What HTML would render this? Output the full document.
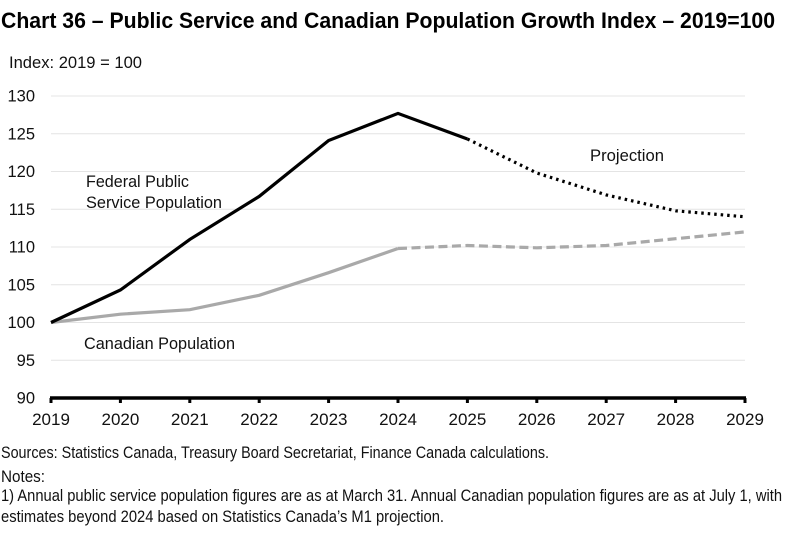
<!DOCTYPE html>
<html lang="en">
<head>
<meta charset="utf-8">
<title>Chart 36</title>
<style>
html,body{margin:0;padding:0;background:#fff;}
svg{display:block;font-family:"Liberation Sans",sans-serif;fill:#111;}
</style>
</head>
<body>
<svg id="chart" width="792" height="534" viewBox="0 0 792 534" xmlns="http://www.w3.org/2000/svg">
  <text x="1" y="28" font-size="22.5" font-weight="700" fill="#000" textLength="774" lengthAdjust="spacingAndGlyphs">Chart 36 – Public Service and Canadian Population Growth Index – 2019=100</text>
  <text x="9" y="68" font-size="16.5" textLength="133" lengthAdjust="spacingAndGlyphs">Index: 2019 = 100</text>
  <g id="grid"></g>
  <g id="yticks"></g>
  <g id="xaxis"></g>
  <g id="series"></g>
  <text x="86" y="187" font-size="16.5" textLength="103" lengthAdjust="spacingAndGlyphs">Federal Public</text>
  <text x="86" y="208" font-size="16.5" textLength="136" lengthAdjust="spacingAndGlyphs">Service Population</text>
  <text x="84" y="349" font-size="16.5" textLength="151" lengthAdjust="spacingAndGlyphs">Canadian Population</text>
  <text x="590" y="161" font-size="16.5" textLength="74" lengthAdjust="spacingAndGlyphs">Projection</text>
  <text x="1" y="458" font-size="16.5" textLength="548" lengthAdjust="spacingAndGlyphs">Sources: Statistics Canada, Treasury Board Secretariat, Finance Canada calculations.</text>
  <text x="1" y="482" font-size="16.5" textLength="44" lengthAdjust="spacingAndGlyphs">Notes:</text>
  <text x="1" y="501" font-size="16.5" textLength="781" lengthAdjust="spacingAndGlyphs">1) Annual public service population figures are as at March 31. Annual Canadian population figures are as at July 1, with</text>
  <text x="1" y="522" font-size="16.5" textLength="443" lengthAdjust="spacingAndGlyphs">estimates beyond 2024 based on Statistics Canada’s M1 projection.</text>
</svg>
<script>
const years = [2019, 2020, 2021, 2022, 2023, 2024, 2025, 2026, 2027, 2028, 2029];
const yTicks = [90, 95, 100, 105, 110, 115, 120, 125, 130];
const publicService = [100, 104.3, 111, 116.7, 124.1, 127.7, 124.3, 119.8, 116.9, 114.8, 114.0];
const canadianPopulation = [100, 101.1, 101.7, 103.6, 106.6, 109.8, 110.2, 109.9, 110.2, 111.1, 112.0];
const lastActualYear = 2024;
const publicServiceProjectionStart = 2025;

const NS = 'http://www.w3.org/2000/svg';
const plot = { left: 51, right: 745, top: 96, bottom: 398 };
const yMin = 90, yMax = 130;

function xScale(year) {
  return plot.left + (year - years[0]) / (years[years.length - 1] - years[0]) * (plot.right - plot.left);
}
function yScale(v) {
  return plot.bottom - (v - yMin) / (yMax - yMin) * (plot.bottom - plot.top);
}
function make(tag, attrs, parent) {
  const el = document.createElementNS(NS, tag);
  for (const k in attrs) el.setAttribute(k, attrs[k]);
  parent.appendChild(el);
  return el;
}

const grid = document.getElementById('grid');
const yLabels = document.getElementById('yticks');
yTicks.forEach(function (t) {
  if (t !== yMin) {
    const line = make('line', { x1: plot.left, x2: plot.right, y1: yScale(t), y2: yScale(t), stroke: '#e4e4e4', 'stroke-width': 1 }, grid);
    
    
  }
  const label = make('text', { x: 35, y: yScale(t) + 5.5, 'font-size': 16.5, 'text-anchor': 'end' }, yLabels);
  
  
  label.textContent = t;
});

const xAxis = document.getElementById('xaxis');
const axisLine = make('line', { x1: plot.left - 1, x2: plot.right + 1, y1: plot.bottom, y2: plot.bottom, stroke: '#000', 'stroke-width': 3.5 }, xAxis);


years.forEach(function (y) {
  const tick = make('line', { x1: xScale(y), x2: xScale(y), y1: plot.bottom, y2: plot.bottom + 5, stroke: '#000', 'stroke-width': 3 }, xAxis);
  
  
  const label = make('text', { x: xScale(y), y: 425, 'font-size': 17, 'text-anchor': 'middle' }, xAxis);
  
  
  label.textContent = y;
});

function pathFor(values, fromYear, toYear) {
  const pts = [];
  years.forEach(function (y, i) {
    if (y >= fromYear && y <= toYear) pts.push(xScale(y).toFixed(1) + ',' + yScale(values[i]).toFixed(1));
  });
  return 'M' + pts.join('L');
}

const series = document.getElementById('series');
const endYear = years[years.length - 1];

const canActual = make('path', { d: pathFor(canadianPopulation, years[0], lastActualYear), fill: 'none', stroke: '#a9a9a9', 'stroke-width': 3.2 }, series);



const canProj = make('path', { d: pathFor(canadianPopulation, lastActualYear, endYear), fill: 'none', stroke: '#a9a9a9', 'stroke-width': 3.2, 'stroke-dasharray': '9 4.5' }, series);



const psActual = make('path', { d: pathFor(publicService, years[0], publicServiceProjectionStart), fill: 'none', stroke: '#000', 'stroke-width': 3.2 }, series);



const psProj = make('path', { d: pathFor(publicService, publicServiceProjectionStart, endYear), fill: 'none', stroke: '#000', 'stroke-width': 3.2, 'stroke-dasharray': '2.5 4' }, series);


</script>
</body>
</html>
